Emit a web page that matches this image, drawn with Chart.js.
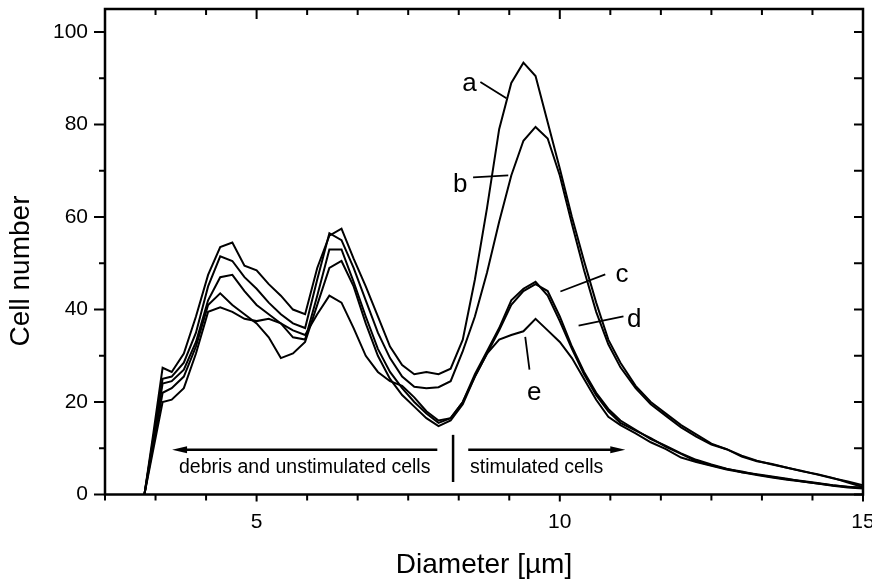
<!DOCTYPE html>
<html><head><meta charset="utf-8">
<script src="https://cdn.jsdelivr.net/npm/chart.js@4/dist/chart.umd.min.js"></script>
<style>html,body{margin:0;padding:0;background:#fff;}canvas{display:block;}</style>
</head><body>
<canvas id="c" width="872" height="579"></canvas>
<script>
// ---- data ----
const diameters = [3.15,3.3,3.45,3.6,3.8,4.0,4.2,4.4,4.6,4.8,5.0,5.2,5.4,5.6,5.8,6.0,6.2,6.4,6.6,6.8,7.0,7.2,7.4,7.6,7.8,8.0,8.2,8.4,8.6,8.8,9.0,9.2,9.4,9.6,9.8,10.0,10.2,10.4,10.6,10.8,11.0,11.25,11.5,11.75,12.0,12.25,12.5,12.75,13.0,13.25,13.5,13.75,14.0,14.25,14.5,14.75,15.0];
const seriesA = [0,13.5,27.4,26.5,30.5,38.5,47.5,53.5,54.5,49.5,48.5,45.5,43,40,39,49,56,57.5,51,45,38.5,32,28,26,26.5,26,27.2,33.5,46.5,62,79,89,93.4,90.5,80.5,70.5,60,50.5,41.5,33.5,28.5,23.5,20,17.5,15,13,11,9.8,8.4,7.3,6.5,5.8,5.1,4.3,3.5,2.8,2.0];
const seriesB = [0,12.5,25,25.5,28.5,35,45,51.5,50.5,47,44.5,41.5,39,37,36,46.5,56.5,55,49,42,35,29.5,25.5,23.3,23,23.2,24.5,31,38.5,48,59,69,76.5,79.5,77,69,58.5,48.5,39.5,32.5,27.5,23,19.5,17,14.5,12.5,10.8,9.8,8.2,7.2,6.6,5.8,5.0,4.4,3.6,2.6,1.6];
const seriesC = [0,12,24,24.5,27,33,42,47,47.5,44,41,39,37,34,33.5,43,53,53,46,38.5,31.5,26.5,23,20,17.5,15.5,16.5,20,26,31,36,42,44.5,46,43,37.5,31.5,26,21.5,18,15.5,13.8,12.2,10.3,8.8,7.2,6.3,5.5,5.0,4.3,3.8,3.3,2.9,2.5,2.0,1.6,1.5];
const seriesD = [0,11,22,23,25.5,32,41,43.5,41,39,37,34,29.5,30.5,33,41,49,50.5,45,37,30,25,21.5,19,16.5,14.8,16,19.5,25.5,30.5,35.5,41,44,45.5,44,38.5,32,26.5,22,18.5,16,14,12,10.5,8.9,7.5,6.5,5.6,4.8,4.4,3.9,3.4,2.8,2.4,2.0,1.7,1.4];
const seriesE = [0,10,20,20.5,23,30.5,39.5,40.5,39.5,38,37.5,38,37,35.5,34.5,39,43,41.5,36,30,26.5,24.5,23.5,21,18,16,16.5,20,25.5,30.5,33.5,34.5,35.3,38,35.5,33,29.5,25,20.5,16.8,15,13.2,11.3,9.8,8.0,7.0,6.2,5.4,4.8,4.2,3.7,3.2,2.8,2.4,1.9,1.5,1.3];
const seriesNames = ['a','b','c','d','e'];
const xTickLabels = [5,10,15];
const yTickLabels = [0,20,40,60,80,100];

// ---- annotation placement (data units) ----
const labelPos = [[8.39,87.2],[8.24,65.5],[10.92,46.0],[11.11,36.3],[9.46,20.5]];
const leaderPos = [[[8.69,89.2],[9.12,85.7]],[[8.57,68.6],[9.15,69.0]],[[10.01,43.9],[10.75,47.6]],[[10.31,36.5],[11.05,38.5]],[[9.43,34.1],[9.5,27.0]]];
const regionTexts = ['debris and unstimulated cells','stimulated cells'];
const FONT = '"Liberation Sans", Arial, Helvetica, sans-serif';
const xMin = 2.5, xMax = 15, xMinorStep = 5/6, yMax = 105;

const allSeries = [seriesA, seriesB, seriesC, seriesD, seriesE];

const decorPlugin = {
  id: 'decor',
  afterDraw(chart) {
    const {ctx, chartArea: ca, scales: {x, y}} = chart;
    const X = v => x.getPixelForValue(v), Y = v => y.getPixelForValue(v);
    ctx.save();
    ctx.strokeStyle = '#000'; ctx.fillStyle = '#000';
    ctx.lineCap = 'butt';
    // frame
    ctx.lineWidth = 2.5;
    ctx.strokeRect(ca.left, ca.top, ca.right - ca.left, ca.bottom - ca.top);
    ctx.lineWidth = 2;
    ctx.beginPath();
    for (let k = 0; k <= 15; k++) {
      const v = xMin + k * xMinorStep;
      const major = Math.abs(v / 5 - Math.round(v / 5)) < 1e-6;
      const px = X(v);
      ctx.moveTo(px, ca.bottom); ctx.lineTo(px, ca.bottom + (major ? 7 : 6));
      ctx.moveTo(px, ca.top); ctx.lineTo(px, ca.top + (major ? 10 : 6));
    }
    for (let v = 0; v <= 100; v += 10) {
      const major = v % 20 === 0;
      const py = Y(v);
      ctx.moveTo(ca.left, py); ctx.lineTo(ca.left - (major ? 11 : 6), py);
      ctx.moveTo(ca.right, py); ctx.lineTo(ca.right - 9, py);
    }
    ctx.stroke();

    ctx.lineWidth = 1.8;
    ctx.beginPath();
    leaderPos.forEach(([p, q]) => { ctx.moveTo(X(p[0]), Y(p[1])); ctx.lineTo(X(q[0]), Y(q[1])); });
    ctx.stroke();
    ctx.font = '26px ' + FONT;
    ctx.textAlign = 'left'; ctx.textBaseline = 'alphabetic';
    seriesNames.forEach((n, i) => ctx.fillText(n, X(labelPos[i][0]), Y(labelPos[i][1])));

    const ay = Y(9.7);
    ctx.lineWidth = 2.5;
    ctx.beginPath();
    ctx.moveTo(X(7.98), ay); ctx.lineTo(X(3.606) + 12, ay);
    ctx.moveTo(X(8.49), ay); ctx.lineTo(X(11.08) - 12, ay);
    ctx.stroke();
    ctx.beginPath();
    ctx.moveTo(X(3.606), ay); ctx.lineTo(X(3.606) + 15, ay - 3.5); ctx.lineTo(X(3.606) + 15, ay + 3.5); ctx.closePath();
    ctx.moveTo(X(11.08), ay); ctx.lineTo(X(11.08) - 15, ay - 3.5); ctx.lineTo(X(11.08) - 15, ay + 3.5); ctx.closePath();
    ctx.fill();
    ctx.beginPath(); ctx.moveTo(X(8.24), Y(12.9)); ctx.lineTo(X(8.24), Y(2.7)); ctx.stroke();
    ctx.font = '19.5px ' + FONT;
    ctx.fillText(regionTexts[0], X(3.72), Y(4.6));
    ctx.fillText(regionTexts[1], X(8.52), Y(4.6));

    ctx.font = '28px ' + FONT;
    ctx.textAlign = 'center'; ctx.textBaseline = 'middle';
    ctx.fillText('Diameter [µm]', (ca.left + ca.right) / 2, 565);
    ctx.translate(21, 271); ctx.rotate(-Math.PI / 2);
    ctx.fillText('Cell number', 0, 0);
    ctx.restore();
  }
};

new Chart(document.getElementById('c'), {
  type: 'line',
  data: {
    datasets: allSeries.map((s, i) => ({
      label: seriesNames[i],
      data: diameters.map((d, j) => ({x: d, y: s[j]})),
      borderColor: '#000', borderWidth: 2, pointRadius: 0, tension: 0, fill: false
    }))
  },
  options: {
    responsive: false, animation: false,
    layout: {padding: {top: 9, right: 9, left: 0, bottom: 0}},
    plugins: {legend: {display: false}, tooltip: {enabled: false}},
    scales: {
      x: {
        type: 'linear', min: xMin, max: xMax,
        grid: {display: false, drawTicks: false}, border: {display: false},
        afterBuildTicks: s => { s.ticks = xTickLabels.map(v => ({value: v})); },
        afterFit: s => { s.height = 84.5; s.paddingLeft = 0; s.paddingRight = 0; s.paddingTop = 0; s.paddingBottom = 0; },
        ticks: {color: '#000', padding: 15, maxRotation: 0, font: {family: FONT, size: 21}, callback: v => String(v)}
      },
      y: {
        type: 'linear', min: 0, max: yMax,
        grid: {display: false, drawTicks: false}, border: {display: false},
        afterBuildTicks: s => { s.ticks = yTickLabels.map(v => ({value: v})); },
        afterFit: s => { s.width = 105; s.paddingLeft = 0; s.paddingRight = 0; s.paddingTop = 0; s.paddingBottom = 0; },
        ticks: {color: '#000', padding: 17, font: {family: FONT, size: 21}, callback: v => String(v)}
      }
    }
  },
  plugins: [decorPlugin]
});
</script>
</body></html>
